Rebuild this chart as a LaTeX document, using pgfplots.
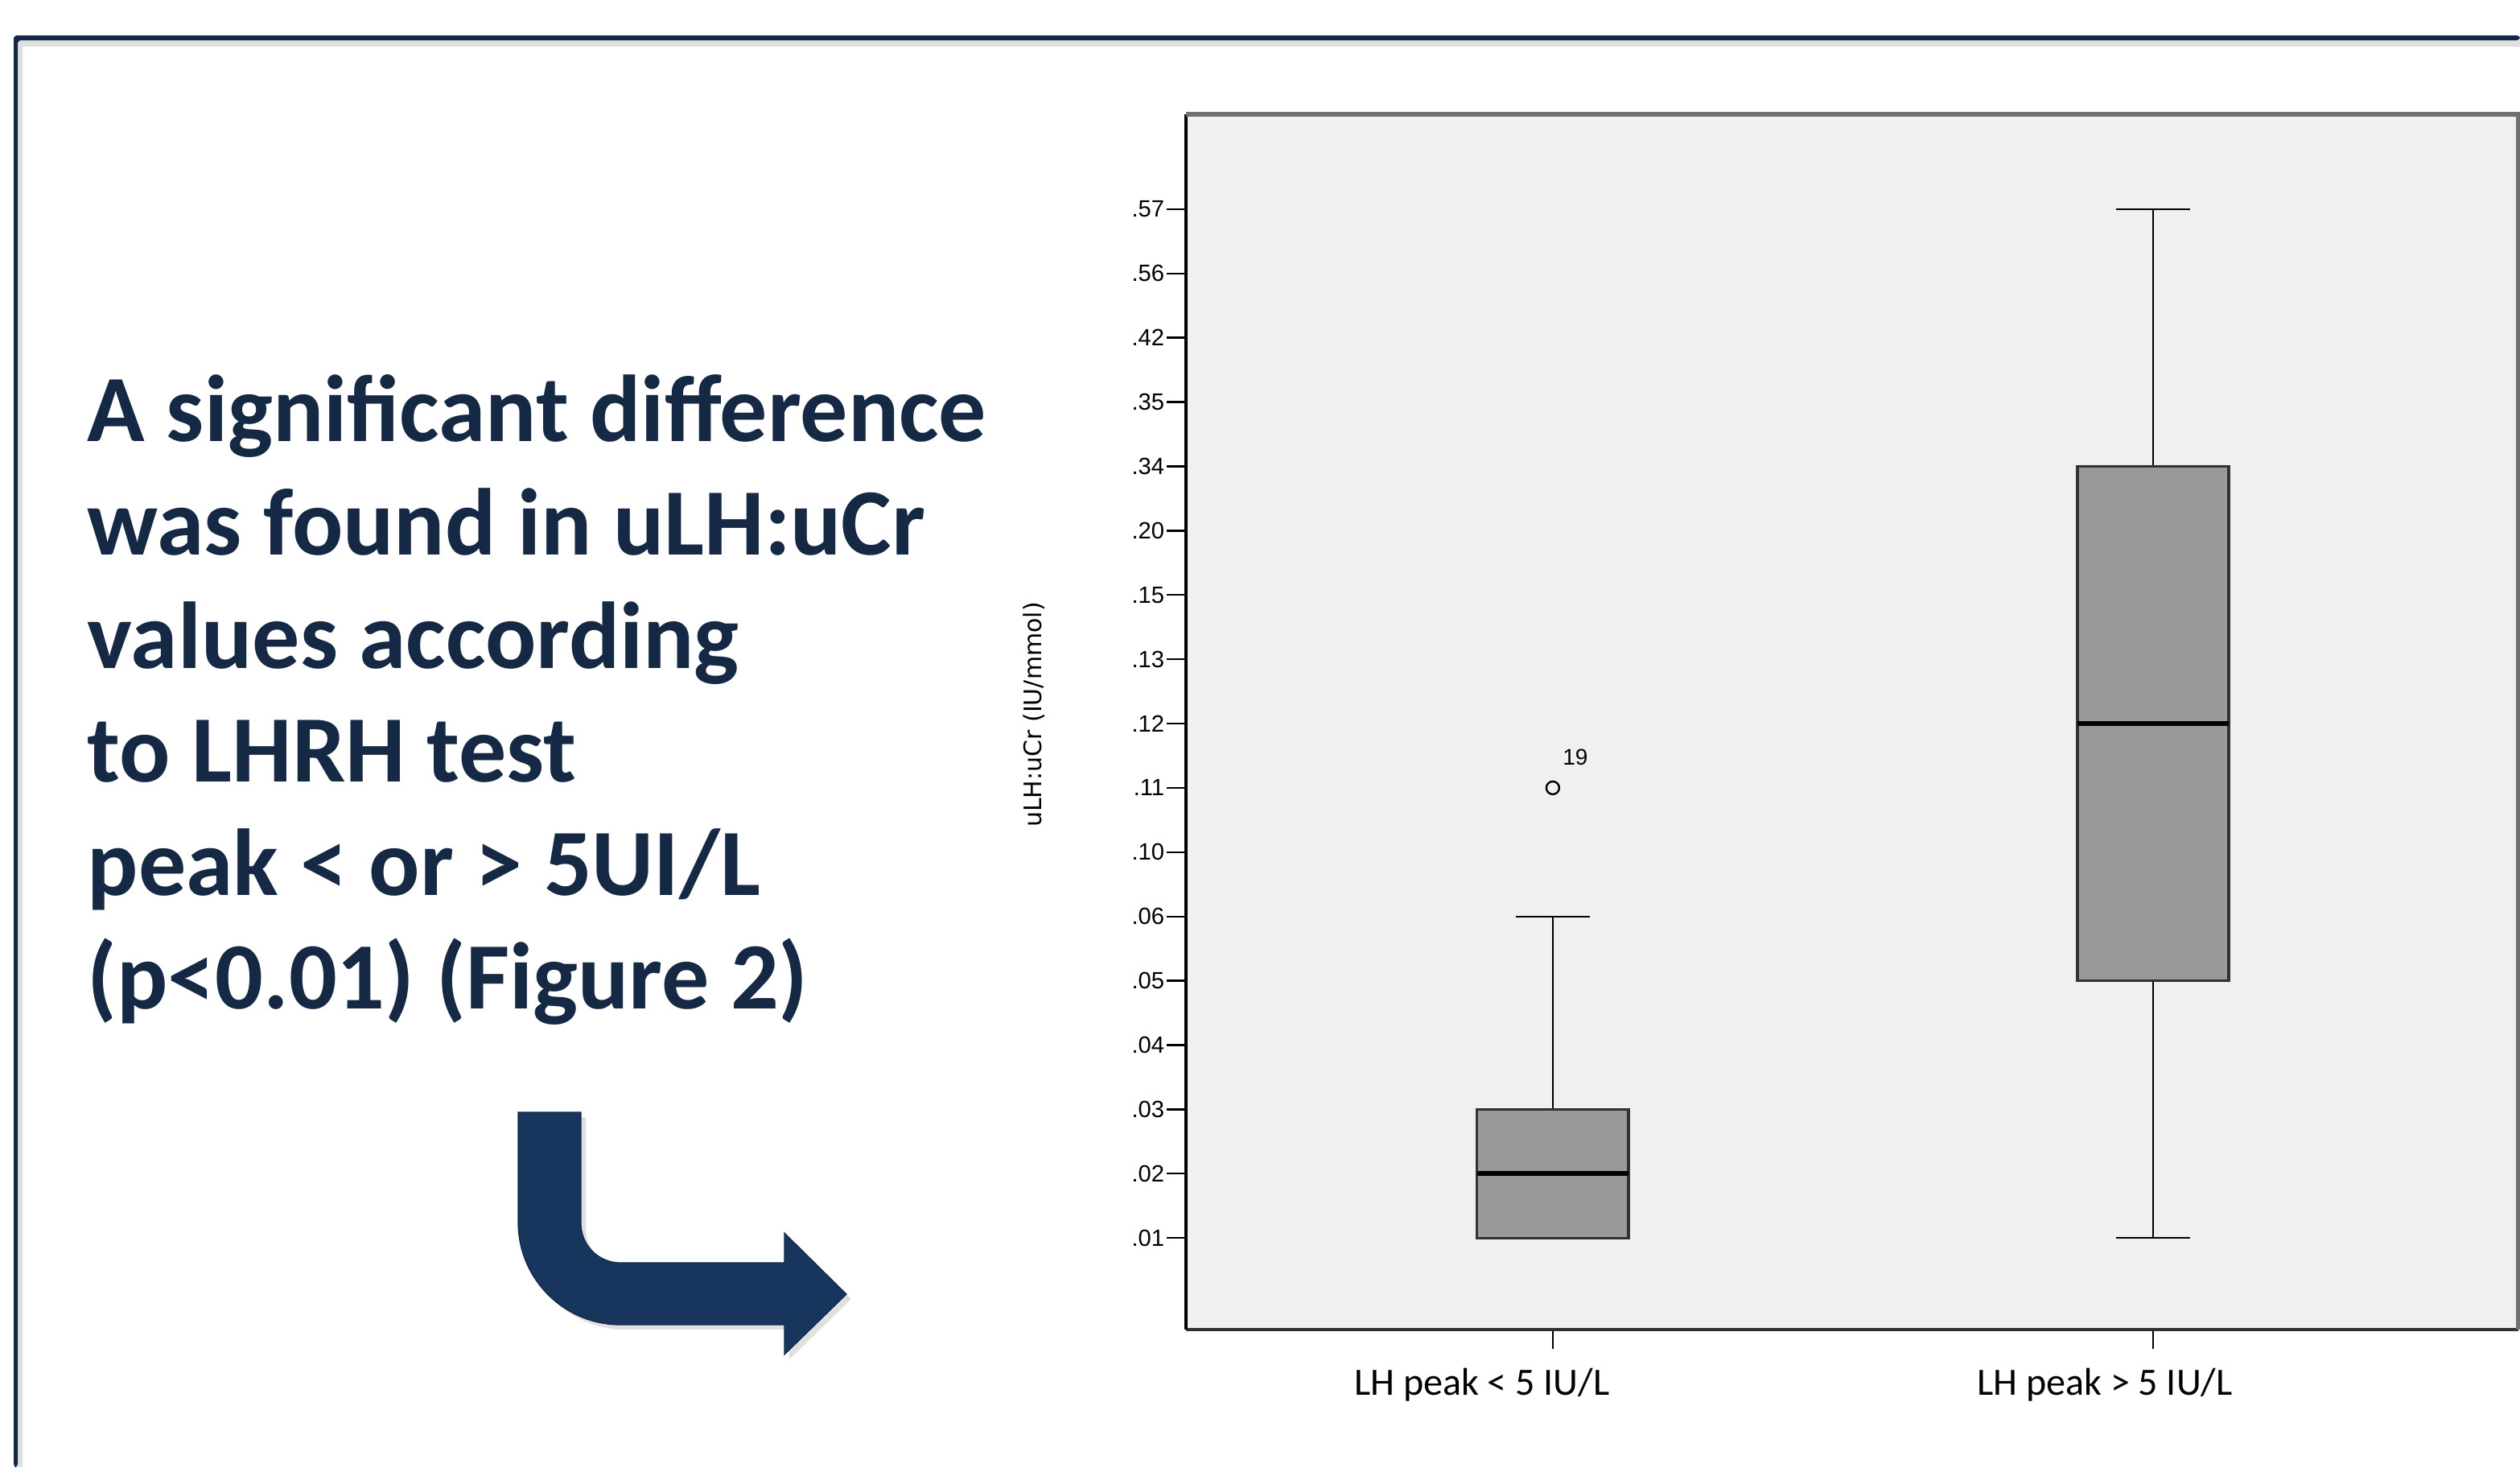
\documentclass[border=0pt]{standalone}
\usepackage{fontspec}
\usepackage{pgfplots}
\pgfplotsset{compat=1.18}
\usepgfplotslibrary{statistics}
\setmainfont{Carlito}
\newfontfamily\carlito{Carlito}
\newfontfamily\libsans{Liberation Sans}
\newfontfamily\dejavu{DejaVu Sans}
\definecolor{txtcol}{RGB}{21,40,68}
\definecolor{arrowcol}{RGB}{24,54,93}
\definecolor{framecol}{RGB}{19,40,70}
\definecolor{bgcol}{RGB}{240,240,240}
\definecolor{boxfill}{RGB}{153,153,153}
\definecolor{boxdraw}{RGB}{50,50,50}
\definecolor{bordercol}{RGB}{112,112,112}
\begin{document}
\begin{tikzpicture}
\useasboundingbox (0,0) rectangle (783pt,-455.75pt);
\begin{scope}[x=0.25pt,y=-0.25pt]
  % slide frame
  \fill[gray!25] (22,50) rectangle (3132,58);
  \fill[gray!25] (22,50) rectangle (28,1823);
  \fill[framecol, rounded corners=1pt] (17,1823) -- (17,44) -- (3132,44) -- (3132,50) -- (22,50) -- (22,1823) -- cycle;
  % text
  \begin{scope}[every node/.style={anchor=base west, inner sep=0pt, text=txtcol, font=\carlito\bfseries\fontsize{29.5}{35}\selectfont}]
    \node at (108,548) {A significant difference};
    \node at (108,689) {was found in uLH:uCr};
    \node at (108,830) {values according};
    \node at (108,971) {to LHRH test};
    \node at (108,1112) {peak < or > 5UI/L};
    \node at (108,1253) {(p<0.01) (Figure 2)};
  \end{scope}
  % arrow
  \fill[black, opacity=0.12] (650,1388) -- (728,1388) -- (728,1526) .. controls (728,1553) and (750,1575) .. (777,1575) -- (981,1575) -- (981,1538) -- (1058,1614) -- (981,1689) -- (981,1652) -- (777,1652) .. controls (707,1652) and (650,1595) .. (650,1525) -- cycle;
  \fill[arrowcol, draw=framecol, line width=0.3pt] (644,1382) -- (722,1382) -- (722,1520) .. controls (722,1547) and (744,1569) .. (771,1569) -- (975,1569) -- (975,1532) -- (1052,1608) -- (975,1683) -- (975,1646) -- (771,1646) .. controls (701,1646) and (644,1589) .. (644,1519) -- cycle;
\end{scope}
\begin{axis}[
  at={(368.5pt,-35.5pt)}, anchor=north west,
  scale only axis, width=414pt, height=377.5pt,
  xmin=0.389, xmax=2.6086, ymin=-0.425, ymax=18.475,
  axis background/.style={fill=bgcol},
  axis x line*=bottom, axis y line*=left,
  x axis line style={-, draw=boxdraw, line width=0.9pt},
  y axis line style={-, draw=black, line width=0.8pt},
  tick align=outside, major tick length=6pt,
  tick style={black, line width=0.6pt},
  xtick={1,2}, xticklabels={{\mbox{LH peak < 5 IU/L\kern44pt}}, {\mbox{LH peak > 5 IU/L\kern30pt}}},
  xticklabel style={font=\carlito\fontsize{12}{14}\selectfont, anchor=base, yshift=-14.25pt},
  ytick={1,...,17},
  yticklabels={.01,.02,.03,.04,.05,.06,.10,.11,.12,.13,.15,.20,.34,.35,.42,.56,.57},
  yticklabel style={font=\libsans\fontsize{7.3}{8}\selectfont, inner sep=0pt, xshift=-0.5pt},
  ylabel={uLH:uCr (IU/mmol)},
  ylabel style={font=\dejavu\fontsize{7.5}{9}\selectfont, at={(axis description cs:-0.1141,0.506)}, anchor=center},
  boxplot/draw direction=y,
  boxplot/every box/.style={draw=boxdraw, fill=boxfill, line width=0.8pt},
  boxplot/every whisker/.style={draw=black, line width=0.6pt},
  boxplot/every median/.style={draw=black, line width=1.5pt},
  clip=false,
]
\addplot[boxplot prepared={lower whisker=1, lower quartile=1, median=2, upper quartile=3, upper whisker=6, draw position=1, box extend=0.252, whisker extend=0.124}] coordinates {};
\addplot[boxplot prepared={lower whisker=1, lower quartile=5, median=9, upper quartile=13, upper whisker=17, draw position=2, box extend=0.252, whisker extend=0.124}] coordinates {};
\addplot[only marks, mark=o, mark size=2pt, mark options={line width=0.6pt, draw=black}] coordinates {(1,8)};
\node[font=\libsans\fontsize{7}{8}\selectfont, xshift=7pt, yshift=9.5pt] at (axis cs:1,8) {19};
\draw[bordercol, line width=1.3pt] (rel axis cs:0,1) -- (rel axis cs:1,1) -- (rel axis cs:1,0);
\end{axis}
\end{tikzpicture}
\end{document}
